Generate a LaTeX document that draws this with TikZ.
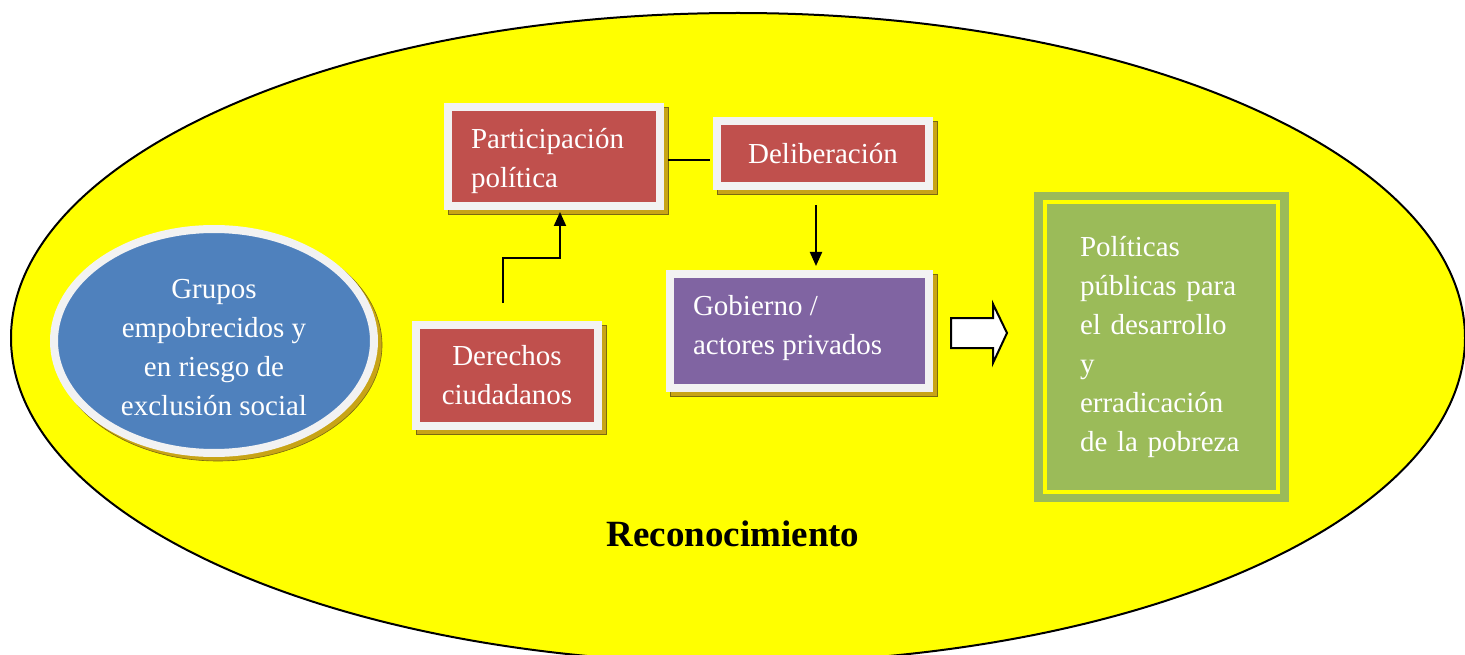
\documentclass[tikz,border=0pt]{standalone}
\usepackage{fontspec}
\setmainfont{Liberation Serif}
\usetikzlibrary{shapes.geometric,arrows.meta,calc}
\definecolor{bgyellow}{HTML}{FFFF00}
\definecolor{boxred}{HTML}{C0504D}
\definecolor{boxpurple}{HTML}{8064A2}
\definecolor{boxblue}{HTML}{4F81BD}
\definecolor{boxgreen}{HTML}{9BBB59}
\definecolor{ringwhite}{HTML}{F2F2F2}
\definecolor{shadowgold}{HTML}{C8A416}
\definecolor{shadowline}{HTML}{7A6A10}
\tikzset{
  txt/.style={font=\fontsize{29}{39}\selectfont, text=white},
  framedbox/.style={rectangle, draw=ringwhite, line width=8pt, outer sep=4pt, inner sep=0pt, txt},
  shadowfill/.style={fill=shadowgold, draw=shadowline, line width=0.6pt},
  conn/.style={draw=black, line width=2pt},
  arr/.style={conn, -{Triangle[width=12pt,length=14pt]}},
}
\begin{document}
\begin{tikzpicture}[x=1pt,y=-1pt]
\useasboundingbox (0,0) rectangle (1465,655);
\clip (0,0) rectangle (1465,655);
% big background ellipse
\node[ellipse, draw=black, line width=2pt, fill=bgyellow, minimum width=1454pt, minimum height=650pt, inner sep=0pt] (bg) at (738,338) {};
% shadows
\draw[shadowfill] (218,345) ellipse [x radius=164, y radius=116];
\fill[shadowfill] (448,107) rectangle (668,214);
\fill[shadowfill] (717,121) rectangle (937,194);
\fill[shadowfill] (670,274) rectangle (937,396);
\fill[shadowfill] (416,325) rectangle (606,434);
% blue ellipse
\node[ellipse, draw=ringwhite, line width=8pt, fill=boxblue, minimum width=320pt, minimum height=224pt, inner sep=0pt] (grupos) at (214,341) {};
\node[txt, align=center, inner sep=0pt] (grupostxt) at (214,348) {Grupos\\ empobrecidos y\\ en riesgo de\\ exclusión social};
% boxes
\node[framedbox, fill=boxred, minimum width=212pt, minimum height=99pt, align=left] (part) at (554,156.5) {\raisebox{-5pt}[\height][\depth]{\parbox{166pt}{Participación\\ política}}};
\node[framedbox, fill=boxred, minimum width=212pt, minimum height=65pt, align=center] (delib) at (823,153.5) {Deliberación};
\node[framedbox, fill=boxpurple, minimum width=259pt, minimum height=114pt, align=left] (gob) at (799.5,331) {\raisebox{3pt}[\height][\depth]{\parbox{213pt}{Gobierno /\\ actores privados}}};
\node[framedbox, fill=boxred, minimum width=182pt, minimum height=101pt, align=center] (der) at (507,375.5) {Derechos\\ ciudadanos};
% green box
\node[rectangle, fill=boxgreen, minimum width=255pt, minimum height=310pt, inner sep=0pt, txt, text width=163pt, align=left] (pol) at (1161.5,347)
  {Políticas\\ públicas para\\ el desarrollo\\ y\\ erradicación\\ de la pobreza};
\draw[bgyellow, line width=4pt] ([shift={(11,10)}]pol.north west) rectangle ([shift={(-11,-10)}]pol.south east);
% connectors
\draw[conn] ([shift={(4,3.5)}]part.east) -- ([shift={(-3,6.5)}]delib.west);
\draw[arr] ([shift={(-7,15)}]delib.south) -- ([shift={(16.5,-4)}]gob.north);
\draw[arr] ([shift={(-4,-18)}]der.north) -- ++(0,-45) -| ([shift={(6,2)}]part.south);
% block arrow
\draw[fill=white, draw=black, line width=2pt, line join=miter] (951,318) -- (993,318) -- (993,304) -- (1007,333) -- (993,363) -- (993,348) -- (951,348) -- cycle;
% label
\node[font=\fontsize{37}{44}\selectfont\bfseries, text=black] (recon) at (733,534) {Reconocimiento};
\end{tikzpicture}
\end{document}
